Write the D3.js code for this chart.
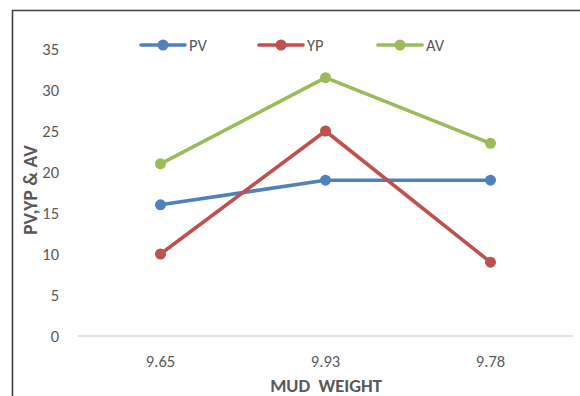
<!DOCTYPE html>
<html>
<head>
<meta charset="utf-8">
<script src="https://cdn.jsdelivr.net/npm/d3@7"></script>
<style>
  html, body { margin: 0; padding: 0; background: #fff; }
  svg { display: block; }
  text { font-family: Carlito, Calibri, Lato, "Open Sans", sans-serif; }
</style>
</head>
<body>
<svg id="chart" width="580" height="396"></svg>
<script>
const categories = ["9.65", "9.93", "9.78"];
const pvValues = [16, 19, 19];
const ypValues = [10, 25, 9];
const avValues = [21, 31.5, 23.5];
const yTicks = [0, 5, 10, 15, 20, 25, 30, 35];
const seriesNames = ["PV", "YP", "AV"];
const seriesColors = ["#4F81BD", "#C0504D", "#9BBB59"];

const series = [
  { name: seriesNames[0], values: pvValues, color: seriesColors[0] },
  { name: seriesNames[1], values: ypValues, color: seriesColors[1] },
  { name: seriesNames[2], values: avValues, color: seriesColors[2] }
];

const svg = d3.select("#chart");

svg.append("path")
  .attr("d", "M12.5,396 L12.5,10.5 L580,10.5")
  .attr("fill", "none")
  .attr("stroke", "#404040")
  .attr("stroke-width", 1.6);

const x = d3.scaleBand().domain(categories).range([78, 573]);
const y = d3.scaleLinear().domain([0, 35]).range([336, 49]);

svg.append("line")
  .attr("x1", 78).attr("x2", 573)
  .attr("y1", y(0)).attr("y2", y(0))
  .attr("stroke", "#D9D9D9").attr("stroke-width", 1.3);

svg.append("g").selectAll("text").data(yTicks).join("text")
  .attr("x", 59).attr("y", d => y(d))
  .attr("dy", "0.35em")
  .attr("text-anchor", "end")
  .attr("font-size", 16.5)
  .attr("fill", "#595959")
  .text(d => d);

svg.append("g").selectAll("text").data(categories).join("text")
  .attr("x", d => x(d) + x.bandwidth() / 2).attr("y", 361)
  .attr("dy", "0.35em")
  .attr("text-anchor", "middle")
  .attr("font-size", 16.5)
  .attr("fill", "#595959")
  .text(d => d);

svg.append("text")
  .attr("x", 326).attr("y", 392)
  .attr("text-anchor", "middle")
  .attr("font-size", 18.5).attr("font-weight", "bold")
  .attr("fill", "#595959")
  .attr("xml:space", "preserve")
  .style("white-space", "pre")
  .text("MUD  WEIGHT");

svg.append("text")
  .attr("transform", "translate(37,190) rotate(-90)")
  .attr("text-anchor", "middle")
  .attr("font-size", 19.5).attr("font-weight", "bold")
  .attr("fill", "#595959")
  .text("PV,YP & AV");

const line = d3.line()
  .x((d, i) => x(categories[i]) + x.bandwidth() / 2)
  .y(d => y(d));

const g = svg.append("g");
series.forEach(s => {
  g.append("path")
    .attr("d", line(s.values))
    .attr("fill", "none")
    .attr("stroke", s.color)
    .attr("stroke-width", 3.6)
    .attr("stroke-linejoin", "round")
    .attr("stroke-linecap", "round");
  g.selectAll(null).data(s.values).join("circle")
    .attr("cx", (d, i) => x(categories[i]) + x.bandwidth() / 2)
    .attr("cy", d => y(d))
    .attr("r", 5.5)
    .attr("fill", s.color);
});

const legendX = [141, 259, 378];
const legY = 45;
series.forEach((s, i) => {
  const lg = svg.append("g").attr("transform", `translate(${legendX[i]},${legY})`);
  lg.append("line").attr("x1", 0).attr("x2", 44).attr("y1", 0).attr("y2", 0)
    .attr("stroke", s.color).attr("stroke-width", 3.6).attr("stroke-linecap", "round");
  lg.append("circle").attr("cx", 22).attr("cy", 0).attr("r", 5.5).attr("fill", s.color);
  lg.append("text").attr("x", 48).attr("y", 0).attr("dy", "0.35em")
    .attr("font-size", 16.5).attr("fill", "#595959").text(s.name);
});
</script>
</body>
</html>
